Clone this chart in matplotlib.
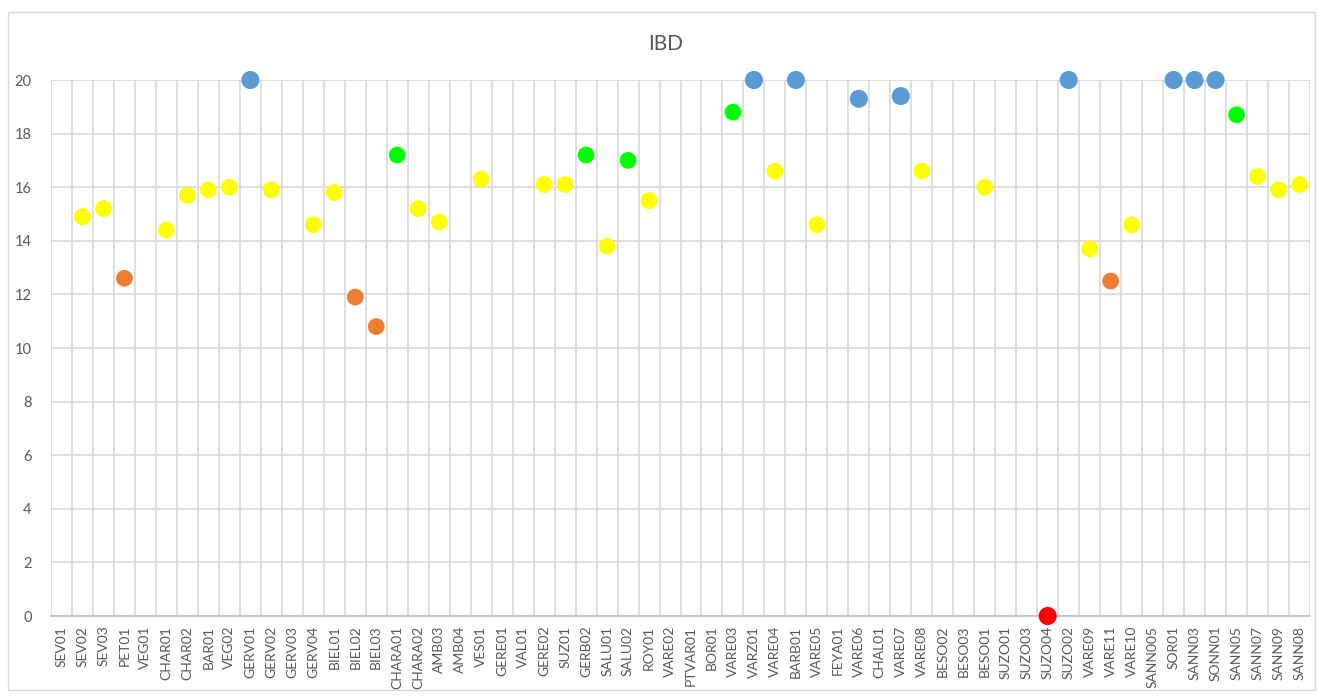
import numpy as np
import matplotlib
matplotlib.use("Agg")
import matplotlib.pyplot as plt
from matplotlib.patches import Rectangle

# stations along the x axis
stations = ["SEV01", "SEV02", "SEV03", "PET01", "VEG01", "CHAR01", "CHAR02", "BAR01",
            "VEG02", "GERV01", "GERV02", "GERV03", "GERV04", "BIEL01", "BIEL02", "BIEL03",
            "CHARA01", "CHARA02", "AMB03", "AMB04", "VES01", "GERE01", "VAL01", "GERE02",
            "SUZ01", "GERB02", "SALU01", "SALU02", "ROY01", "VARE02", "PTVAR01", "BOR01",
            "VARE03", "VARZ01", "VARE04", "BARB01", "VARE05", "FEYA01", "VARE06", "CHAL01",
            "VARE07", "VARE08", "BESO02", "BESO03", "BESO01", "SUZO01", "SUZO03", "SUZO04",
            "SUZO02", "VARE09", "VARE11", "VARE10", "SANN005", "SOR01", "SANN03", "SONN01",
            "SANN05", "SANN07", "SANN09", "SANN08"]

# IBD score per station (nan = no sample)
nan = np.nan
ibd = [nan, 14.9, 15.2, 12.6, nan, 14.4, 15.7, 15.9,
       16.0, 20.0, 15.9, nan, 14.6, 15.8, 11.9, 10.8,
       17.2, 15.2, 14.7, nan, 16.3, nan, nan, 16.1,
       16.1, 17.2, 13.8, 17.0, 15.5, nan, nan, nan,
       18.8, 20.0, 16.6, 20.0, 14.6, nan, 19.3, nan,
       19.4, 16.6, nan, nan, 16.0, nan, nan, 0.0,
       20.0, 13.7, 12.5, 14.6, nan, 20.0, 20.0, 20.0,
       18.7, 16.4, 15.9, 16.1]

# quality classes
class_limits = [19, 17, 13, 5]
class_colors = ["#5B9BD5", "#00FF00", "#FFFF00", "#ED7D31", "#FF0000"]

vals = np.array(ibd, dtype=float)
x = np.arange(len(stations)) + 0.5
ok = ~np.isnan(vals)

def pick_color(v):
    for lim, c in zip(class_limits, class_colors):
        if v >= lim:
            return c
    return class_colors[-1]

colors = [pick_color(v) for v in vals[ok]]
sizes = [170 if c in ("#5B9BD5", "#FF0000") else 145 for c in colors]

plt.rcParams["font.family"] = ["Lato", "DejaVu Sans"]

fig = plt.figure(figsize=(13.17, 6.97), dpi=100)
ax = fig.add_axes([51 / 1317, 1 - 616 / 697, (1310 - 51) / 1317, (616 - 80) / 697])

ax.scatter(x[ok], vals[ok], c=colors, s=sizes, edgecolors="none", zorder=3, clip_on=False)

ax.set_xlim(0, len(stations))
ax.set_ylim(0, 20)
ax.set_yticks(np.arange(0, 21, 2))
ax.set_xticks(np.arange(len(stations) + 1), minor=False)
ax.set_xticklabels([])
ax.set_xticks(x, minor=True)
ax.set_xticklabels(stations, minor=True, rotation=90, fontsize=10, color="#595959")
ax.tick_params(axis="x", which="both", length=0, pad=7)
ax.tick_params(axis="y", length=0, pad=14, labelsize=10.5, labelcolor="#595959")
ax.grid(True, which="major", color="#D9D9D9", linewidth=1.2)
ax.set_axisbelow(True)
for side in ["top", "right", "left"]:
    ax.spines[side].set_visible(False)
ax.spines["bottom"].set_color("#BFBFBF")
ax.spines["bottom"].set_linewidth(1.2)

fig.text(666 / 1317, 1 - 44 / 697, "IBD", ha="center", va="center", fontsize=15, color="#595959")

# chart area frame
fig.patches.append(Rectangle((8 / 1317, 1 - 690 / 697), 1307 / 1317, 678 / 697,
                             transform=fig.transFigure, fill=False, edgecolor="#D9D9D9",
                             linewidth=1))

fig.savefig("out.png", dpi=100)
